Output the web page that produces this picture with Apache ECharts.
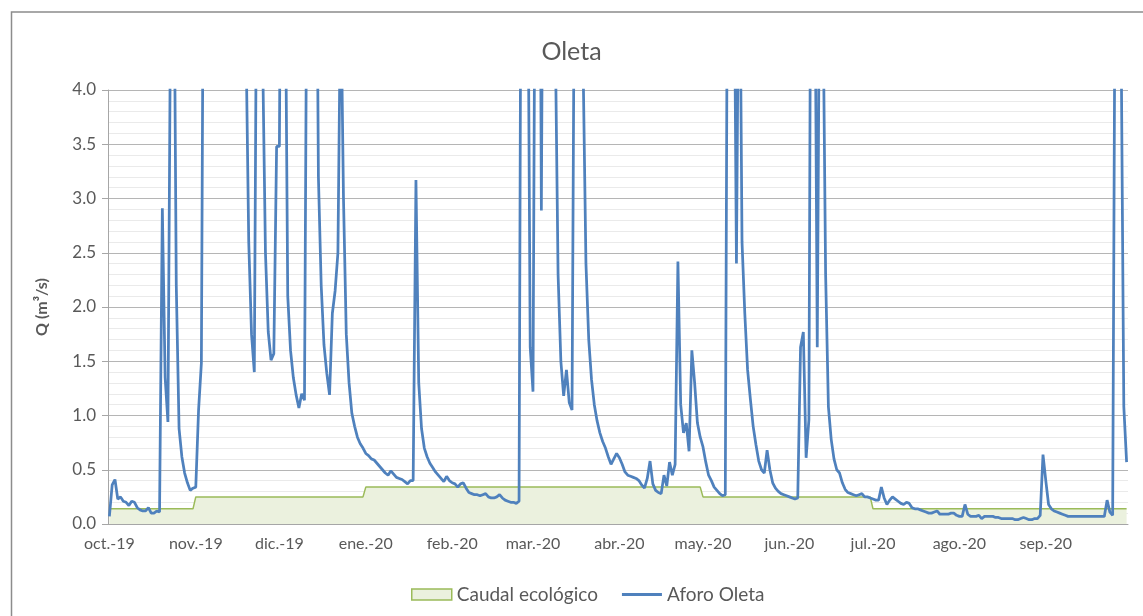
<!DOCTYPE html>
<html>
<head>
<meta charset="utf-8">
<script src="https://cdn.jsdelivr.net/npm/echarts@6.0.0/dist/echarts.min.js"></script>
<style>
  html, body { margin: 0; padding: 0; background: #fff; }
  #chart { width: 1143px; height: 616px; }
</style>
</head>
<body>
<div id="chart"></div>
<script>
// month axis
const monthLabels = ['oct.-19', 'nov.-19', 'dic.-19', 'ene.-20', 'feb.-20', 'mar.-20',
  'abr.-20', 'may.-20', 'jun.-20', 'jul.-20', 'ago.-20', 'sep.-20']

// caudal ecologico (m3/s), one value per month
const ecoByMonth = [0.14, 0.25, 0.25, 0.34, 0.34, 0.34, 0.34, 0.25, 0.25, 0.14, 0.14, 0.14]

// aforo Oleta, daily (m3/s) - values above 4 run off the top of the chart
const oct19 = [0.07, 0.36, 0.41, 0.23, 0.25, 0.21, 0.20, 0.17, 0.21, 0.20,
  0.15, 0.13, 0.12, 0.12, 0.15, 0.10, 0.10, 0.12, 0.11, 2.91,
  1.35, 0.94, 5.0, 6.0, 2.2, 0.88, 0.62, 0.47, 0.38, 0.31, 0.33]
const nov19 = [0.34, 1.05, 1.48, 7, 12, 15, 10, 9, 14, 18,
  11, 9, 8, 10, 12, 9, 7, 6, 4.5, 2.6,
  1.75, 1.40, 6, 8, 4.3, 2.5, 1.77, 1.51, 1.57, 3.48]
const dic19 = [3.48, 8, 5.5, 2.1, 1.6, 1.35, 1.19, 1.07, 1.20, 1.14,
  6, 10, 12, 7, 3.2, 2.2, 1.65, 1.39, 1.19, 1.94,
  2.15, 2.5, 5, 3.0, 1.75, 1.3, 1.02, 0.9, 0.8, 0.74, 0.70]
const ene20 = [0.65, 0.63, 0.60, 0.59, 0.56, 0.53, 0.50, 0.47, 0.45, 0.49,
  0.46, 0.43, 0.42, 0.41, 0.39, 0.37, 0.40, 0.40, 3.17, 1.3,
  0.88, 0.70, 0.62, 0.56, 0.52, 0.48, 0.45, 0.42, 0.39, 0.44, 0.40]
const feb20 = [0.38, 0.37, 0.34, 0.37, 0.38, 0.33, 0.29, 0.28, 0.27, 0.27,
  0.26, 0.27, 0.28, 0.25, 0.24, 0.24, 0.25, 0.27, 0.24, 0.22,
  0.21, 0.20, 0.20, 0.19, 0.21, 8, 12, 6, 1.63]
const mar20 = [1.22, 7, 9, 2.89, 8, 14, 12, 8, 4.5, 2.3,
  1.5, 1.18, 1.42, 1.12, 1.05, 6, 12, 8, 4.2, 2.4,
  1.7, 1.33, 1.1, 0.95, 0.84, 0.76, 0.70, 0.62, 0.55, 0.60, 0.65]
const abr20 = [0.61, 0.55, 0.48, 0.45, 0.44, 0.43, 0.42, 0.40, 0.36, 0.33,
  0.42, 0.58, 0.37, 0.31, 0.29, 0.28, 0.45, 0.35, 0.57, 0.45,
  0.55, 2.42, 1.1, 0.84, 0.93, 0.67, 1.60, 1.30, 0.93, 0.80]
const may20 = [0.71, 0.57, 0.45, 0.40, 0.34, 0.31, 0.28, 0.26, 0.27, 7,
  10, 6, 2.40, 6, 2.6, 1.94, 1.42, 1.15, 0.90, 0.73,
  0.58, 0.50, 0.47, 0.68, 0.50, 0.38, 0.33, 0.30, 0.28, 0.27, 0.26]
const jun20 = [0.25, 0.24, 0.23, 0.24, 1.63, 1.77, 0.61, 0.96, 8, 6,
  1.63, 6, 5, 2.3, 1.08, 0.78, 0.60, 0.50, 0.47, 0.38,
  0.32, 0.29, 0.28, 0.27, 0.26, 0.27, 0.28, 0.25, 0.25, 0.24]
const jul20 = [0.23, 0.22, 0.22, 0.34, 0.24, 0.18, 0.22, 0.25, 0.23, 0.21,
  0.19, 0.18, 0.20, 0.19, 0.15, 0.14, 0.14, 0.13, 0.12, 0.11,
  0.10, 0.10, 0.11, 0.12, 0.09, 0.09, 0.09, 0.09, 0.10, 0.10, 0.08]
const ago20 = [0.07, 0.07, 0.18, 0.09, 0.07, 0.07, 0.07, 0.08, 0.05, 0.07,
  0.07, 0.07, 0.07, 0.06, 0.06, 0.05, 0.05, 0.05, 0.05, 0.05,
  0.04, 0.04, 0.05, 0.06, 0.05, 0.04, 0.04, 0.05, 0.05, 0.08, 0.64]
const sep20 = [0.40, 0.18, 0.14, 0.12, 0.11, 0.10, 0.09, 0.08, 0.07, 0.07,
  0.07, 0.07, 0.07, 0.07, 0.07, 0.07, 0.07, 0.07, 0.07, 0.07,
  0.07, 0.07, 0.22, 0.11, 0.08, 6, 9, 4.6, 1.08, 0.57]

const flowByMonth = [oct19, nov19, dic19, ene20, feb20, mar20, abr20, may20, jun20, jul20, ago20, sep20]

// daily categories, month start index -> label
const days = []
const flow = []
const eco = []
const monthStart = {}
monthLabels.forEach((label, m) => {
  monthStart[days.length] = label
  flowByMonth[m].forEach((v, d) => {
    days.push(label + ' ' + (d + 1))
    flow.push(v)
    eco.push(ecoByMonth[m])
  })
})

const isMonthStart = (i) => monthStart[i] !== undefined
const font = 'Lato, "Open Sans", sans-serif'
const grey = '#595959'

const chart = echarts.init(document.getElementById('chart'))
chart.setOption({
  animation: false,
  textStyle: { fontFamily: font },
  title: {
    text: 'Oleta',
    left: 'center',
    top: 34,
    textStyle: { fontSize: 25, fontWeight: 'normal', color: grey, fontFamily: font }
  },
  legend: {
    left: 406,
    top: 580,
    itemWidth: 40,
    itemHeight: 11,
    itemGap: 24,
    symbolKeepAspect: true,
    textStyle: { fontSize: 19, color: grey, fontFamily: font },
    data: [
      { name: 'Caudal ecológico', icon: 'rect', itemStyle: { color: '#ebf1de', borderColor: '#9bbb59', borderWidth: 1.5 } },
      { name: 'Aforo Oleta', icon: 'path://M0,0H40V2.8H0Z', itemStyle: { color: '#4f81bd' } }
    ]
  },
  grid: { left: 108, right: 15, top: 90, bottom: 92 },
  xAxis: {
    type: 'category',
    data: days,
    boundaryGap: true,
    axisLine: { lineStyle: { color: '#a6a6a6' } },
    axisTick: { interval: isMonthStart, length: 5, lineStyle: { color: '#a6a6a6' } },
    axisLabel: {
      interval: isMonthStart,
      formatter: (v, i) => monthStart[i] || '',
      fontSize: 16,
      color: grey,
      margin: 12
    },
    splitLine: { show: false }
  },
  yAxis: {
    type: 'value',
    min: 0,
    max: 4,
    interval: 0.5,
    name: 'Q (m³/s)',
    nameLocation: 'middle',
    nameGap: 58,
    nameRotate: 90,
    nameTextStyle: { fontSize: 16, fontWeight: 'bold', color: grey },
    axisLine: { show: true, lineStyle: { color: '#a6a6a6' } },
    axisTick: { show: true, length: 6, lineStyle: { color: '#a6a6a6' } },
    axisLabel: { formatter: v => v.toFixed(1), fontSize: 17, color: grey, margin: 12 },
    splitLine: { lineStyle: { color: '#b5b5b5' } },
    minorTick: { show: false, splitNumber: 5 },
    minorSplitLine: { show: true, lineStyle: { color: '#eaeaea' } }
  },
  series: [
    {
      name: 'Caudal ecológico',
      type: 'line',
      data: eco,
      symbol: 'none',
      lineStyle: { color: '#9bbb59', width: 1.5 },
      itemStyle: { color: '#9bbb59' },
      areaStyle: { color: '#ebf1de', opacity: 1 },
      z: 2
    },
    {
      name: 'Aforo Oleta',
      type: 'line',
      data: flow,
      symbol: 'none',
      clip: true,
      lineStyle: { color: '#4f81bd', width: 2.75 },
      itemStyle: { color: '#4f81bd' },
      z: 3
    }
  ],
  graphic: [{
    type: 'rect',
    silent: true,
    z: -10,
    shape: { x: 11.5, y: 12, width: 1200, height: 700 },
    style: { fill: 'none', stroke: '#8c8c8c', lineWidth: 1.5 }
  }]
})
</script>
</body>
</html>
